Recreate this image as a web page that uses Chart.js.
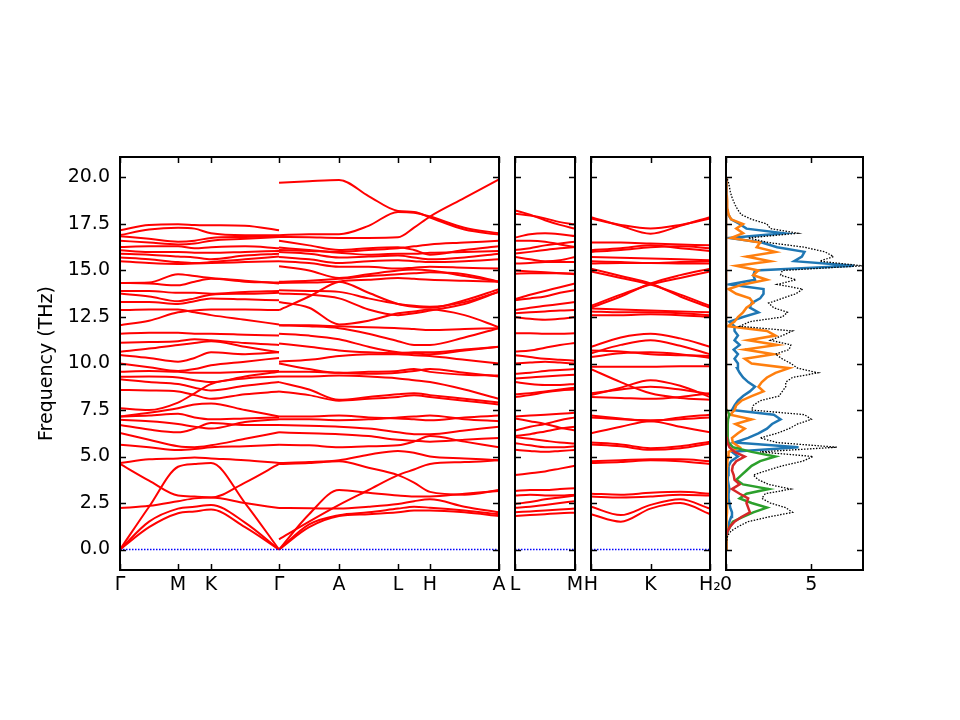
<!DOCTYPE html>
<html>
<head>
<meta charset="utf-8">
<script src="https://cdn.jsdelivr.net/npm/chart.js@4.4.0/dist/chart.umd.min.js"></script>
<style>
  html, body { margin: 0; padding: 0; background: #fff; }
  #wrap { position: relative; width: 960px; height: 720px; }
  #wrap canvas { position: absolute; left: 0; top: 0; }
</style>
</head>
<body>
<div id="wrap">
  <canvas id="bands-main" width="960" height="720"></canvas>
  <canvas id="bands-lm" width="960" height="720"></canvas>
  <canvas id="bands-hkh" width="960" height="720"></canvas>
  <canvas id="dos" width="960" height="720"></canvas>
</div>
<script>
// ---- tick positions / labels ----
const yTickValues = [0, 2.5, 5, 7.5, 10, 12.5, 15, 17.5, 20];
const mainTickK = [0, 0.575, 0.902, 1.576, 2.171, 2.755, 3.072, 3.756];
const mainTickLabels = ["Γ", "M", "K", "Γ", "A", "L", "H", "A"];
const lmTickK = [0, 0.595];
const lmTickLabels = ["L", "M"];
const hkhTickK = [0, 0.59, 1.18];
const hkhTickLabels = ["H", "K", "H₂"];
const dosTicks = [0, 5];
const dosTickLabels = ["0", "5"];

// ---- k-points sampled along each path segment ----
const kSeg1 = [0, 0.288, 0.575, 0.739, 0.902, 1.239, 1.576];           // Γ-M-K-Γ
const kSeg2 = [1.576, 1.874, 2.171, 2.463, 2.755, 2.914, 3.072, 3.414, 3.756]; // Γ-A-L-H-A
const kLM = [0, 0.149, 0.298, 0.446, 0.595];                           // L-M
const kHKH = [0, 0.295, 0.59, 0.885, 1.18];                            // H-K-H2

// ---- band frequencies (THz) at those k-points ----
const bandsSeg1 = [
  [0, 1.2, 1.95, 2.05, 2.15, 1.2, 0],
  [0, 1.5, 2.2, 2.3, 2.4, 1.45, 0],
  [0, 2.3, 4.45, 4.6, 4.65, 2.5, 0],
  [2.23, 2.35, 2.6, 2.75, 2.8, 2.5, 2.23],
  [4.6, 3.7, 2.9, 2.85, 2.8, 3.6, 4.6],
  [4.65, 4.85, 4.9, 4.95, 4.9, 4.8, 4.65],
  [5.63, 5.5, 5.35, 5.4, 5.5, 5.55, 5.63],
  [6.26, 5.9, 5.55, 5.5, 5.6, 5.95, 6.3],
  [6.7, 6.45, 6.3, 6.5, 6.8, 6.7, 6.7],
  [6.97, 6.9, 6.75, 6.6, 6.5, 6.85, 7.0],
  [7.15, 7.2, 7.3, 7.1, 7.0, 7.05, 7.1],
  [7.6, 7.5, 7.9, 8.4, 8.9, 9.2, 9.3],
  [8.58, 8.55, 8.5, 8.3, 8.1, 8.35, 8.49],
  [7.15, 7.35, 7.6, 7.8, 7.85, 7.5, 7.15],
  [9.15, 9.0, 8.9, 8.7, 8.55, 8.8, 9.0],
  [9.29, 9.3, 9.25, 9.1, 9.0, 9.3, 9.56],
  [9.56, 9.6, 9.55, 9.5, 9.5, 9.55, 9.6],
  [10.0, 9.8, 9.6, 9.7, 9.9, 10.1, 10.3],
  [10.46, 10.3, 10.1, 10.3, 10.6, 10.5, 10.6],
  [10.63, 10.8, 11.0, 11.1, 11.2, 10.9, 10.6],
  [11.12, 11.15, 11.2, 11.3, 11.25, 11.1, 11.0],
  [11.6, 11.65, 11.65, 11.6, 11.6, 11.55, 11.5],
  [12.06, 12.3, 12.75, 12.85, 12.9, 12.9, 12.87],
  [12.87, 12.9, 12.9, 12.75, 12.6, 12.35, 12.1],
  [13.3, 13.3, 13.2, 13.35, 13.5, 13.45, 13.4],
  [13.76, 13.6, 13.35, 13.5, 13.7, 13.75, 13.8],
  [13.9, 13.9, 13.8, 13.8, 13.75, 13.85, 13.9],
  [14.33, 14.35, 14.8, 14.7, 14.6, 14.45, 14.3],
  [14.33, 14.3, 14.2, 14.4, 14.55, 14.4, 14.35],
  [15.5, 15.4, 15.35, 15.38, 15.4, 15.45, 15.5],
  [15.7, 15.6, 15.45, 15.4, 15.45, 15.6, 15.75],
  [15.9, 15.85, 15.75, 15.7, 15.6, 15.8, 15.9],
  [16.09, 16.0, 16.0, 15.95, 15.95, 16.0, 16.05],
  [16.26, 16.3, 16.3, 16.2, 16.25, 16.3, 16.2],
  [16.6, 16.5, 16.4, 16.45, 16.6, 16.7, 16.8],
  [16.84, 16.7, 16.55, 16.6, 16.75, 16.8, 16.84],
  [16.9, 17.2, 17.3, 17.25, 17.0, 16.9, 16.9],
  [17.16, 17.45, 17.48, 17.45, 17.43, 17.4, 17.16]
];

const bandsSeg2 = [
  [0, 1.2, 1.8, 1.9, 2.0, 2.1, 2.1, 2.0, 1.8],
  [0, 1.35, 1.85, 2.0, 2.2, 2.3, 2.25, 2.1, 1.9],
  [0, 1.9, 3.2, 3.05, 2.9, 2.85, 2.85, 3.0, 3.15],
  [0.55, 1.5, 2.4, 3.2, 4.0, 4.3, 4.6, 4.7, 4.8],
  [2.23, 2.22, 2.2, 2.3, 2.45, 2.6, 2.7, 2.3, 2.0],
  [4.6, 4.65, 4.75, 4.4, 4.0, 3.6, 3.1, 2.95, 3.2],
  [4.65, 4.7, 4.8, 5.1, 5.3, 5.2, 5.0, 4.9, 4.8],
  [5.63, 5.6, 5.5, 5.55, 5.6, 5.8, 6.1, 5.8, 5.5],
  [6.3, 6.25, 6.2, 6.1, 5.9, 5.85, 5.8, 5.9, 6.0],
  [6.7, 6.65, 6.6, 6.5, 6.3, 6.2, 6.2, 6.4, 6.6],
  [7.0, 7.0, 6.95, 7.0, 7.1, 7.15, 7.2, 7.0, 6.9],
  [7.15, 7.15, 7.2, 7.1, 7.05, 7.0, 6.95, 7.1, 7.2],
  [8.5, 8.3, 8.0, 8.1, 8.2, 8.3, 8.2, 8.0, 7.8],
  [9.0, 8.6, 8.05, 8.2, 8.35, 8.4, 8.3, 8.1, 7.9],
  [9.3, 9.3, 9.35, 9.3, 9.2, 9.1, 9.0, 8.6, 8.1],
  [9.56, 9.55, 9.5, 9.45, 9.5, 9.6, 9.7, 9.5, 9.3],
  [10.0, 9.7, 9.5, 9.55, 9.6, 9.7, 9.55, 9.4, 9.35],
  [10.1, 10.2, 10.4, 10.5, 10.5, 10.45, 10.4, 10.2, 10.0],
  [11.08, 10.9, 10.7, 10.6, 10.55, 10.6, 10.6, 10.75, 10.9],
  [11.6, 11.5, 11.3, 10.9, 10.6, 10.55, 10.5, 10.7, 10.9],
  [12.06, 12.0, 11.9, 11.6, 11.2, 11.0, 11.0, 11.4, 11.9],
  [12.06, 12.05, 12.0, 11.95, 11.9, 11.85, 11.8, 11.85, 11.9],
  [12.87, 13.6, 14.4, 14.5, 14.6, 14.55, 14.5, 14.45, 14.4],
  [13.3, 13.0, 12.1, 12.3, 12.7, 12.8, 12.9, 12.6, 11.95],
  [13.76, 13.7, 13.5, 12.9, 12.6, 12.7, 12.85, 13.2, 13.86],
  [13.94, 13.9, 13.85, 13.5, 13.2, 13.1, 13.05, 13.3, 13.86],
  [14.33, 14.35, 14.4, 13.8, 13.2, 13.05, 13.0, 13.4, 14.0],
  [14.39, 14.45, 14.55, 14.7, 14.8, 14.85, 14.9, 14.8, 14.4],
  [15.23, 15.0, 14.6, 14.8, 15.0, 15.05, 15.0, 14.7, 14.4],
  [15.5, 15.4, 15.2, 15.2, 15.1, 15.15, 15.2, 15.15, 15.1],
  [15.73, 15.6, 15.4, 15.5, 15.55, 15.5, 15.45, 15.5, 15.6],
  [15.99, 15.9, 15.7, 15.75, 15.8, 15.7, 15.6, 15.7, 15.9],
  [16.1, 16.05, 16.0, 16.1, 16.2, 16.3, 16.4, 16.5, 16.6],
  [16.23, 16.1, 15.95, 15.85, 15.9, 15.9, 15.95, 16.0, 16.05],
  [16.6, 16.35, 16.1, 16.2, 16.25, 16.1, 15.85, 16.1, 16.3],
  [16.8, 16.78, 16.75, 16.75, 16.78, 17.3, 17.9, 18.9, 19.9],
  [16.9, 16.95, 16.95, 17.4, 18.15, 18.1, 17.9, 17.3, 17.0],
  [19.71, 19.8, 19.87, 19.0, 18.2, 18.15, 17.85, 17.2, 16.93]
];

const bandsLM = [
  [1.8, 1.85, 1.9, 1.95, 1.98],
  [2.0, 2.05, 2.1, 2.15, 2.2],
  [2.25, 2.3, 2.4, 2.5, 2.6],
  [2.45, 2.55, 2.7, 2.8, 2.9],
  [2.9, 2.95, 2.9, 2.9, 2.95],
  [3.15, 3.2, 3.2, 3.25, 3.3],
  [4.0, 4.1, 4.2, 4.35, 4.5],
  [5.36, 5.3, 5.25, 5.3, 5.35],
  [5.72, 5.6, 5.5, 5.5, 5.55],
  [6.05, 5.95, 5.85, 5.75, 5.7],
  [6.1, 6.2, 6.35, 6.5, 6.6],
  [7.05, 6.9, 6.75, 6.55, 6.4],
  [6.4, 6.6, 6.75, 6.95, 7.1],
  [7.15, 7.2, 7.25, 7.3, 7.35],
  [8.2, 8.3, 8.45, 8.55, 8.6],
  [8.35, 8.4, 8.5, 8.6, 8.7],
  [9.0, 8.9, 8.85, 8.85, 8.9],
  [9.2, 9.25, 9.3, 9.35, 9.4],
  [9.45, 9.5, 9.6, 9.65, 9.7],
  [10.0, 10.05, 10.1, 10.05, 10.0],
  [10.45, 10.35, 10.25, 10.2, 10.15],
  [10.64, 10.7, 10.85, 11.0, 11.1],
  [11.62, 11.62, 11.6, 11.6, 11.62],
  [12.5, 12.4, 12.35, 12.4, 12.5],
  [12.7, 12.75, 12.8, 12.85, 12.87],
  [12.87, 13.0, 13.1, 13.2, 13.3],
  [13.4, 13.5, 13.6, 13.8, 13.94],
  [13.45, 13.7, 13.9, 14.1, 14.3],
  [14.83, 14.85, 14.85, 14.85, 14.83],
  [15.0, 14.95, 14.9, 14.85, 14.8],
  [15.37, 15.4, 15.45, 15.45, 15.46],
  [15.73, 15.6, 15.5, 15.55, 15.73],
  [15.91, 16.0, 16.1, 16.2, 16.26],
  [16.1, 16.2, 16.35, 16.45, 16.55],
  [16.77, 16.95, 17.0, 16.95, 16.85],
  [16.6, 16.6, 16.55, 16.4, 16.26],
  [18.05, 17.95, 17.8, 17.6, 17.48],
  [18.23, 18.0, 17.7, 17.45, 17.25]
];

const bandsHKH = [
  [1.9, 1.5, 2.2, 2.5, 1.9],
  [2.3, 1.85, 2.4, 2.7, 2.2],
  [2.85, 2.8, 2.85, 2.95, 2.9],
  [3.0, 2.95, 3.05, 3.1, 3.0],
  [4.65, 4.7, 4.8, 4.75, 4.6],
  [4.75, 4.8, 4.85, 4.85, 4.75],
  [5.65, 5.55, 5.36, 5.45, 5.7],
  [5.75, 5.65, 5.45, 5.55, 5.8],
  [6.25, 6.6, 6.9, 6.6, 6.3],
  [7.2, 7.05, 6.9, 7.1, 7.25],
  [7.1, 7.0, 6.95, 7.0, 7.1],
  [8.2, 8.15, 8.1, 8.2, 8.4],
  [8.3, 8.7, 9.1, 8.8, 8.2],
  [8.4, 8.6, 8.75, 8.6, 8.35],
  [9.7, 9.0, 8.4, 8.15, 8.05],
  [9.83, 9.83, 9.83, 9.85, 9.85],
  [10.35, 10.55, 10.6, 10.5, 10.3],
  [10.7, 10.65, 10.5, 10.45, 10.4],
  [10.9, 11.4, 11.6, 11.35, 10.9],
  [10.55, 11.0, 11.25, 10.95, 10.5],
  [12.6, 12.6, 12.65, 12.6, 12.5],
  [12.8, 12.75, 12.75, 12.7, 12.6],
  [12.95, 12.9, 12.85, 12.8, 12.75],
  [13.0, 13.6, 14.3, 14.75, 15.1],
  [13.1, 13.7, 14.25, 14.6, 14.95],
  [15.1, 14.7, 14.3, 13.6, 13.0],
  [14.95, 14.6, 14.25, 13.7, 13.1],
  [15.37, 15.4, 15.4, 15.38, 15.37],
  [15.5, 15.45, 15.4, 15.45, 15.5],
  [15.73, 15.68, 15.64, 15.6, 15.55],
  [16.09, 16.2, 16.35, 16.2, 16.05],
  [16.0, 16.1, 16.25, 16.3, 16.2],
  [16.5, 16.5, 16.45, 16.4, 16.35],
  [17.8, 17.45, 17.25, 17.45, 17.8],
  [17.87, 17.4, 16.98, 17.4, 17.87]
];

// ---- density of states (states/THz) on a frequency grid ----
const dosFreq = [
  0, 0.25, 0.5, 0.75, 1, 1.25, 1.5, 1.75, 2, 2.25,
  2.5, 2.75, 3, 3.25, 3.5, 3.75, 4, 4.25, 4.5, 4.75,
  5, 5.25, 5.5, 5.75, 6, 6.25, 6.5, 6.75, 7, 7.25,
  7.5, 7.75, 8, 8.25, 8.5, 8.75, 9, 9.25, 9.5, 9.75,
  10, 10.25, 10.5, 10.75, 11, 11.25, 11.5, 11.75, 12, 12.25,
  12.5, 12.75, 13, 13.25, 13.5, 13.75, 14, 14.25, 14.5, 14.75,
  15, 15.25, 15.5, 15.75, 16, 16.25, 16.5, 16.75, 17, 17.25,
  17.5, 17.75, 18, 18.25, 18.5, 18.75, 19, 19.25, 19.5, 19.75,
  20
];
const dosTotal = [
  0, 0, 0.05, 0.1, 0.3, 0.75, 1.3, 2.5, 3.9, 3.5,
  2.6, 2.1, 2.3, 3.8, 2.5, 1.9, 1.6, 2.4, 3.3, 4.5,
  5.1, 2.0, 6.5, 3.0, 2.0, 3.0, 3.7, 4.2, 5.0, 4.6,
  1.5, 1.6, 2.0, 3.1, 3.3, 3.5, 3.5, 3.9, 5.4, 4.2,
  3.8, 3.3, 2.9, 3.7, 3.8, 2.6, 3.3, 3.9, 0.8, 1.4,
  3.3, 3.6, 2.8, 2.5, 3.3, 4.1, 4.5, 3.0, 4.1, 3.2,
  3.3, 8.0, 5.5, 6.3, 5.8, 4.6, 2.5, 1.3, 4.2, 2.6,
  2.4, 1.5, 0.9, 0.7, 0.55, 0.43, 0.32, 0.25, 0.2, 0.14,
  0.05
];
const dosBlue = [
  0, 0, 0.02, 0.05, 0.1, 0.15, 0.2, 0.3, 0.35, 0.25,
  0.2, 0.15, 0.15, 0.2, 0.15, 0.1, 0.12, 0.15, 0.15, 0.3,
  0.7, 0.35, 4.25, 0.5, 1.3, 1.9, 2.4, 2.7, 3.2, 2.8,
  0.35, 0.5, 0.7, 1.0, 1.4, 1.7, 1.3, 1.0, 0.8, 0.65,
  0.7, 0.5, 0.7, 0.45, 0.8, 0.5, 0.7, 0.5, 0.5, 0.2,
  1.0, 1.9, 1.4, 1.5, 2.0, 2.2, 2.2, 0.2, 1.7, 1.6,
  1.7, 7.5, 4.0, 4.45, 4.6, 3.0, 2.1, 0.2, 3.4, 1.2,
  0.8, 0.3, 0.14, 0.06, 0.04, 0.03, 0.02, 0.02, 0.01, 0.01,
  0
];
const dosOrange = [
  0, 0, 0.02, 0.03, 0.05, 0.05, 0.05, 0.05, 0.06, 0.06,
  0.05, 0.05, 0.05, 0.06, 0.05, 0.05, 0.05, 0.05, 0.06, 0.08,
  0.12, 0.15, 0.8, 0.4, 0.35, 0.7, 1.1, 0.55, 1.5, 0.25,
  0.5, 0.6, 0.9, 1.5, 2.2, 1.9, 2.1, 2.4, 2.9, 3.7,
  1.5, 1.1, 2.8, 1.1, 3.0, 1.3, 2.9, 2.4, 0.1, 0.5,
  0.7, 1.0, 1.2, 1.6, 1.4, 0.6, 0.15, 1.0, 2.4, 1.6,
  1.9, 0.6, 2.6, 1.2, 2.9, 1.8, 2.0, 0.3, 1.0, 0.6,
  1.0, 0.3, 0.15, 0.1, 0.08, 0.06, 0.05, 0.04, 0.03, 0.02,
  0.01
];
const dosGreen = [
  0, 0, 0, 0.02, 0.1, 0.25, 0.4, 1.0, 1.6, 2.4,
  1.5, 0.8, 1.2, 2.5, 1.0, 0.6, 0.9, 1.2, 1.5, 2.0,
  2.9, 1.5, 0.4, 0.15, 0.1, 0.1, 0.1, 0.1, 0.12, 0.2,
  0.05, 0.02, 0, 0, 0, 0, 0, 0, 0, 0,
  0, 0, 0, 0, 0, 0, 0, 0, 0, 0,
  0, 0, 0, 0, 0, 0, 0, 0, 0, 0,
  0, 0, 0, 0, 0, 0, 0, 0, 0, 0,
  0, 0, 0, 0, 0, 0, 0, 0, 0, 0,
  0
];
const dosRed = [
  0, 0, 0, 0.02, 0.1, 0.25, 0.5, 0.9, 1.4, 1.3,
  1.2, 1.3, 0.8, 0.35, 0.8, 0.5, 0.45, 0.35, 0.4, 0.6,
  1.1, 0.5, 0.2, 0.08, 0.05, 0.04, 0.04, 0.04, 0.04, 0.04,
  0.02, 0, 0, 0, 0, 0, 0, 0, 0, 0,
  0, 0, 0, 0, 0, 0, 0, 0, 0, 0,
  0, 0, 0, 0, 0, 0, 0, 0, 0, 0,
  0, 0, 0, 0, 0, 0, 0, 0, 0, 0,
  0, 0, 0, 0, 0, 0, 0, 0, 0, 0,
  0
];

// ---- layout ----
const plotTop = 157;
const plotBottom = 570;
const xAxisHeight = 40;
const freqMin = -1.1;
const freqMax = 21.1;

Chart.defaults.font.family = "'DejaVu Sans', sans-serif";
Chart.defaults.font.size = 19;
Chart.defaults.color = "#000";

// frame + inward ticks on all four sides, like matplotlib direction="in"
const frameTicks = {
  id: "frameTicks",
  afterDraw(chart) {
    const { ctx, chartArea: a, scales } = chart;
    const len = 6;
    ctx.save();
    ctx.strokeStyle = "#000";
    ctx.lineWidth = 1.5;
    ctx.beginPath();
    for (const t of scales.x.ticks) {
      const px = Math.round(scales.x.getPixelForValue(t.value)) + 0.5;
      ctx.moveTo(px, a.top);
      ctx.lineTo(px, a.top + len);
      ctx.moveTo(px, a.bottom);
      ctx.lineTo(px, a.bottom - len);
    }
    for (const t of scales.y.ticks) {
      const py = Math.round(scales.y.getPixelForValue(t.value)) + 0.5;
      ctx.moveTo(a.left, py);
      ctx.lineTo(a.left + len, py);
      ctx.moveTo(a.right, py);
      ctx.lineTo(a.right - len, py);
    }
    ctx.stroke();
    ctx.lineWidth = 2;
    ctx.strokeRect(a.left, a.top, a.right - a.left, a.bottom - a.top);
    ctx.restore();
  }
};

// y-axis title, centred on the plot height
const yTitle = {
  id: "yTitle",
  afterDraw(chart) {
    const { ctx, chartArea: a } = chart;
    ctx.save();
    ctx.translate(47, (a.top + a.bottom) / 2);
    ctx.rotate(-Math.PI / 2);
    ctx.font = "19px 'DejaVu Sans'";
    ctx.fillStyle = "#000";
    ctx.textAlign = "center";
    ctx.textBaseline = "middle";
    ctx.fillText("Frequency (THz)", 0, 0);
    ctx.restore();
  }
};

function bandDatasets(kSamples, bands) {
  return bands.map((band) => ({
    data: band.map((f, i) => ({ x: kSamples[i], y: f })),
    borderColor: "#ff0000",
    borderWidth: 2,
    cubicInterpolationMode: "monotone",
    pointRadius: 0,
    fill: false
  }));
}

function zeroLine(xMin, xMax) {
  return {
    data: [{ x: xMin, y: 0 }, { x: xMax, y: 0 }],
    borderColor: "#0000ff",
    borderWidth: 1.5,
    borderDash: [1.5, 1.5],
    pointRadius: 0,
    fill: false
  };
}

function dosDataset(values, color, width, dash) {
  return {
    data: values.map((v, i) => ({ x: v, y: dosFreq[i] })),
    borderColor: color,
    borderWidth: width,
    borderDash: dash || [],
    pointRadius: 0,
    tension: 0,
    fill: false
  };
}

function makePanel(id, left, right, xAxis, datasets, showYLabels, extraPlugins) {
  const yWidth = showYLabels ? left : 0;
  return new Chart(document.getElementById(id), {
    type: "line",
    data: { datasets },
    options: {
      responsive: false,
      animation: false,
      devicePixelRatio: 1,
      events: [],
      layout: {
        padding: {
          left: left - yWidth,
          right: 960 - right,
          top: plotTop,
          bottom: 720 - plotBottom - xAxisHeight
        }
      },
      plugins: { legend: { display: false }, tooltip: { enabled: false } },
      scales: {
        x: {
          type: "linear",
          min: xAxis.min,
          max: xAxis.max,
          grid: { display: false, drawTicks: false },
          border: { display: false },
          afterBuildTicks: (s) => { s.ticks = xAxis.ticks.map((v) => ({ value: v })); },
          afterFit: (s) => { s.height = xAxisHeight; },
          ticks: {
            autoSkip: false,
            maxRotation: 0,
            padding: 4,
            callback: (v, i) => xAxis.labels[i]
          }
        },
        y: {
          type: "linear",
          min: freqMin,
          max: freqMax,
          grid: { display: false, drawTicks: false },
          border: { display: false },
          afterBuildTicks: (s) => { s.ticks = yTickValues.map((v) => ({ value: v })); },
          afterFit: (s) => { s.width = yWidth; },
          ticks: {
            display: showYLabels,
            padding: 10,
            callback: (v) => v.toFixed(1)
          }
        }
      }
    },
    plugins: [frameTicks].concat(extraPlugins || [])
  });
}

makePanel("bands-main", 120, 499,
  { min: 0, max: 3.756, ticks: mainTickK, labels: mainTickLabels },
  [zeroLine(0, 3.756)].concat(bandDatasets(kSeg1, bandsSeg1), bandDatasets(kSeg2, bandsSeg2)),
  true, [yTitle]);

makePanel("bands-lm", 515, 575,
  { min: 0, max: 0.595, ticks: lmTickK, labels: lmTickLabels },
  [zeroLine(0, 0.595)].concat(bandDatasets(kLM, bandsLM)),
  false);

makePanel("bands-hkh", 591, 710,
  { min: 0, max: 1.18, ticks: hkhTickK, labels: hkhTickLabels },
  [zeroLine(0, 1.18)].concat(bandDatasets(kHKH, bandsHKH)),
  false);

makePanel("dos", 726, 863,
  { min: 0, max: 8.03, ticks: dosTicks, labels: dosTickLabels },
  [
    dosDataset(dosTotal, "#000000", 1.3, [1.5, 1.5]),
    dosDataset(dosRed, "#d62728", 2.5),
    dosDataset(dosGreen, "#2ca02c", 2.5),
    dosDataset(dosOrange, "#ff7f0e", 2.5),
    dosDataset(dosBlue, "#1f77b4", 2.5)
  ],
  false);
</script>
</body>
</html>
